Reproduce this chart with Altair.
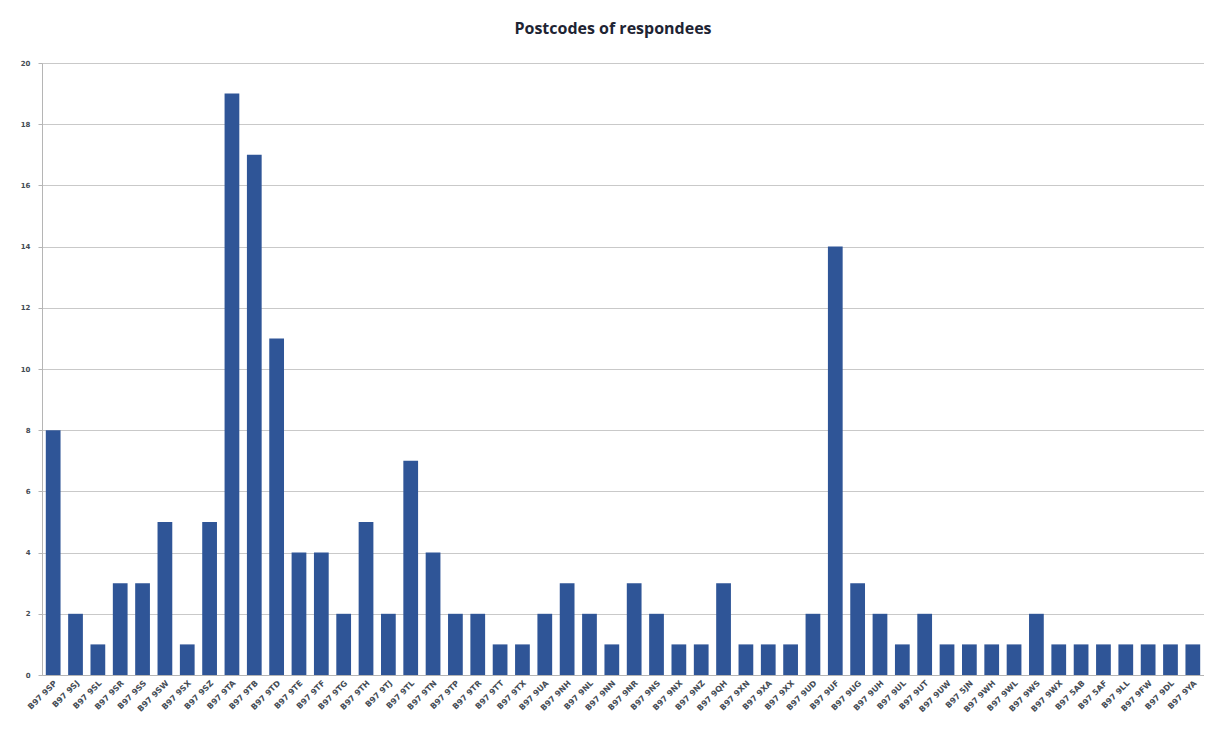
import altair as alt
import pandas as pd

postcodes = [
    "B97 9SP", "B97 9SJ", "B97 9SL", "B97 9SR", "B97 9SS", "B97 9SW", "B97 9SX", "B97 9SZ",
    "B97 9TA", "B97 9TB", "B97 9TD", "B97 9TE", "B97 9TF", "B97 9TG", "B97 9TH", "B97 9TJ",
    "B97 9TL", "B97 9TN", "B97 9TP", "B97 9TR", "B97 9TT", "B97 9TX", "B97 9UA", "B97 9NH",
    "B97 9NL", "B97 9NN", "B97 9NR", "B97 9NS", "B97 9NX", "B97 9NZ", "B97 9QH", "B97 9XN",
    "B97 9XA", "B97 9XX", "B97 9UD", "B97 9UF", "B97 9UG", "B97 9UH", "B97 9UL", "B97 9UT",
    "B97 9UW", "B97 5JN", "B97 9WH", "B97 9WL", "B97 9WS", "B97 9WX", "B97 5AB", "B97 5AF",
    "B97 9LL", "B97 9FW", "B97 9DL", "B97 9YA",
]
counts = [
    8, 2, 1, 3, 3, 5, 1, 5,
    19, 17, 11, 4, 4, 2, 5, 2,
    7, 4, 2, 2, 1, 1, 2, 3,
    2, 1, 3, 2, 1, 1, 3, 1,
    1, 1, 2, 14, 3, 2, 1, 2,
    1, 1, 1, 1, 2, 1, 1, 1,
    1, 1, 1, 1,
]
y_ticks = [0, 2, 4, 6, 8, 10, 12, 14, 16, 18, 20]

df = pd.DataFrame({"postcode": postcodes, "count": counts})

chart = (
    alt.Chart(df)
    .mark_bar(color="#2f5597")
    .encode(
        x=alt.X(
            "postcode:N",
            sort=postcodes,
            title=None,
            scale=alt.Scale(paddingInner=0.34, paddingOuter=0.17),
            axis=alt.Axis(
                labelAngle=-45,
                labelFontSize=8,
                labelFontWeight="bold",
                labelColor="#454c55",
                labelFont="DejaVu Sans",
                ticks=False,
                domainColor="#b5b5b5",
                labelPadding=4,
            ),
        ),
        y=alt.Y(
            "count:Q",
            title=None,
            scale=alt.Scale(domain=[0, 20], nice=False),
            axis=alt.Axis(
                values=y_ticks,
                labelFontSize=7,
                labelFontWeight="bold",
                labelColor="#454c55",
                labelFont="DejaVu Sans",
                gridColor="#c9c9c9",
                domainColor="#b5b5b5",
                tickColor="#b5b5b5",
                tickSize=4,
                labelPadding=8,
            ),
        ),
    )
    .properties(
        width=1162,
        height=612,
        autosize=alt.AutoSizeParams(type="none"),
        padding={"left": 34, "top": 55, "right": 0, "bottom": 46},
        title=alt.TitleParams(
            "Postcodes of respondees",
            fontSize=16,
            fontWeight="bold",
            font="Open Sans",
            color="#1e2433",
            offset=22,
            anchor="middle",
            dx=-10,
        ),
    )
    .configure_view(stroke=None)
    .configure(background="white")
)

chart.save("out.html", embed_options={"renderer": "svg", "actions": False})
